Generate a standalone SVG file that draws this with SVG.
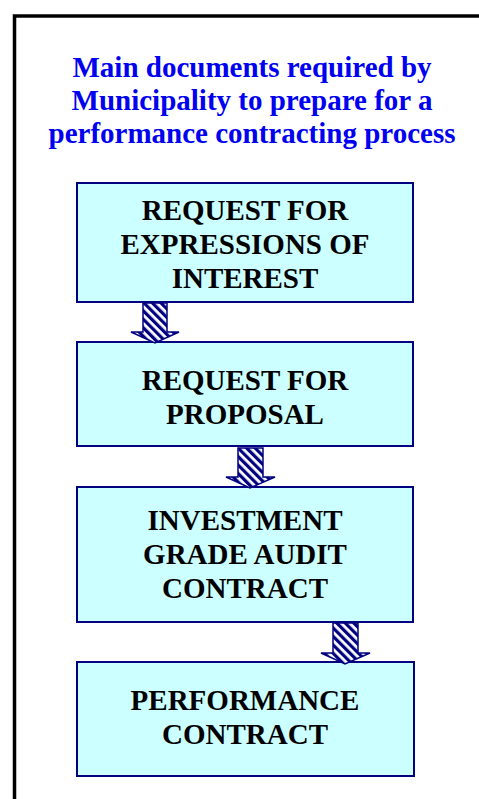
<svg xmlns="http://www.w3.org/2000/svg" width="479" height="799" viewBox="0 0 479 799">
<style>
.title{font-family:"Liberation Serif","Times New Roman",serif;font-weight:bold;font-size:29px;fill:#0000F0;text-anchor:middle}
.lbl{font-family:"Liberation Serif","Times New Roman",serif;font-weight:bold;font-size:29px;fill:#000;text-anchor:middle}
.box{fill:#CCFFFF;stroke:#000080;stroke-width:2}
.arr{fill:url(#hatch);stroke:#000080;stroke-width:1.5;stroke-linejoin:miter}
</style>
<defs>
<pattern id="hatch" patternUnits="userSpaceOnUse" width="6" height="6" patternTransform="rotate(-45)">
<rect width="6" height="6" fill="#fff"/>
<rect width="3.2" height="6" fill="#000080"/>
</pattern>
</defs>
<rect x="0" y="0" width="479" height="799" fill="#fff"/>
<rect x="14.5" y="16" width="480" height="800" fill="none" stroke="#000" stroke-width="3.5"/>
<g id="title">
<text class="title" x="252" y="77">Main documents required by</text>
<text class="title" x="252" y="110">Municipality to prepare for a</text>
<text class="title" x="252" y="143">performance contracting process</text>
</g>
<g id="node1">
<rect class="box" x="77" y="183" width="336" height="119"/>
<text class="lbl" x="245" y="220">REQUEST FOR</text>
<text class="lbl" x="245" y="254">EXPRESSIONS OF</text>
<text class="lbl" x="245" y="288">INTEREST</text>
</g>
<g id="node2">
<rect class="box" x="77" y="342" width="336" height="104"/>
<text class="lbl" x="245" y="390">REQUEST FOR</text>
<text class="lbl" x="245" y="424">PROPOSAL</text>
</g>
<g id="node3">
<rect class="box" x="77" y="487" width="336" height="135"/>
<text class="lbl" x="245" y="530">INVESTMENT</text>
<text class="lbl" x="245" y="564">GRADE AUDIT</text>
<text class="lbl" x="245" y="598">CONTRACT</text>
</g>
<g id="node4">
<rect class="box" x="77" y="662" width="337" height="114"/>
<text class="lbl" x="245" y="710">PERFORMANCE</text>
<text class="lbl" x="245" y="744">CONTRACT</text>
</g>
<g id="connectors">
<path class="arr" d="M143,303 H167 V332 H179 L155,343 L131,332 H143 Z"/>
<path class="arr" d="M238,448 H263 V477 H275 L250,488 L226,477 H238 Z"/>
<path class="arr" d="M333,623 H358 V653 H370 L345,664 L321,653 H333 Z"/>
</g>
</svg>
